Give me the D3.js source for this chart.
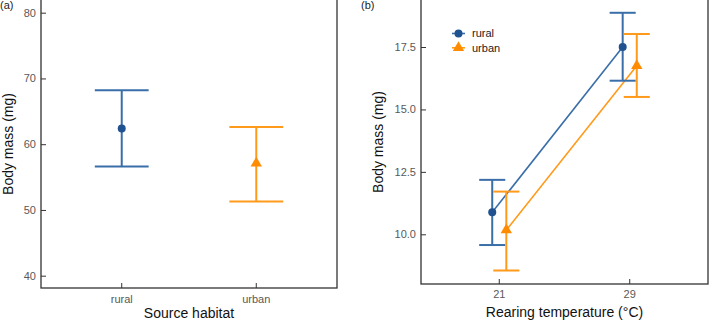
<!DOCTYPE html>
<html>
<head>
<meta charset="utf-8">
<script src="https://cdn.jsdelivr.net/npm/d3@7"></script>
<style>
  body { margin: 0; background: #fff; }
  svg { display: block; font-family: "Liberation Sans", Arial, sans-serif; }
</style>
</head>
<body>
<svg id="chart" width="709" height="320"></svg>
<script>
// Panel (a): body mass by source habitat
const habitats = ["rural", "urban"];
const habitatMean = [62.4, 57.1];
const habitatLow = [56.6, 51.3];
const habitatHigh = [68.2, 62.6];
const ticksA = [40, 50, 60, 70, 80];

// Panel (b): body mass by rearing temperature
const temps = ["21", "29"];
const ruralMean = [10.88, 17.5];
const ruralLow = [9.57, 16.15];
const ruralHigh = [12.18, 18.87];
const urbanMean = [10.17, 16.75];
const urbanLow = [8.55, 15.5];
const urbanHigh = [11.71, 18.02];
const ticksB = [10.0, 12.5, 15.0, 17.5];

const colors = { rural: "#3a6ea8", ruralDot: "#1f528f", urban: "#ff9a1a", urbanDot: "#ff8c00" };
const svg = d3.select("#chart");

function frame(g, x0, x1, yTop, yBot) {
  // box round the plot area
  g.append("rect").attr("x", x0).attr("y", yTop).attr("width", x1 - x0).attr("height", yBot - yTop)
    .attr("fill", "none").attr("stroke", "#333").attr("stroke-width", 1.3);
}

function marker(g, shape, cx, cy, fill) {
  if (shape === "circle") {
    g.append("circle").attr("cx", cx).attr("cy", cy).attr("r", 4).attr("fill", fill);
  } else {
    g.append("path").attr("d", d3.symbol(d3.symbolTriangle, 56)())
      .attr("transform", `translate(${cx},${cy})`).attr("fill", fill);
  }
}

function errBar(g, x, yLo, yHi, half, color, w) {
  g.append("line").attr("x1", x).attr("x2", x).attr("y1", yLo).attr("y2", yHi).attr("stroke", color).attr("stroke-width", w);
  g.append("line").attr("x1", x - half).attr("x2", x + half).attr("y1", yLo).attr("y2", yLo).attr("stroke", color).attr("stroke-width", w);
  g.append("line").attr("x1", x - half).attr("x2", x + half).attr("y1", yHi).attr("y2", yHi).attr("stroke", color).attr("stroke-width", w);
}

function axes(g, x, y, xTicks, xLabels, yTicks, yFmt, left, right, bottom, labY) {
  // y axis, ticks pointing inwards
  const ya = g.append("g").attr("transform", `translate(${left},0)`)
    .call(d3.axisRight(y).tickValues(yTicks).tickFormat(() => "").tickSize(5));
  ya.select(".domain").remove();
  ya.selectAll("line").attr("stroke", "#333");
  yTicks.forEach(v => {
    g.append("text").attr("x", left - 5).attr("y", y(v)).attr("dy", "0.35em")
      .attr("text-anchor", "end").attr("font-size", 11).attr("fill", "#595959").text(yFmt(v));
  });
  // x axis
  xTicks.forEach((v, i) => {
    g.append("line").attr("x1", x(v)).attr("x2", x(v)).attr("y1", bottom).attr("y2", bottom - 5).attr("stroke", "#333");
    g.append("text").attr("x", x(v)).attr("y", labY).attr("dy", "0.35em")
      .attr("text-anchor", "middle").attr("font-size", 11).attr("fill", "#595959").text(xLabels[i]);
  });
}

// ---------- Panel (a) ----------
{
  const left = 41, right = 337, top = 0, bottom = 288;
  const g = svg.append("g");
  const x = d3.scaleLinear().domain([0.4, 2.6]).range([left, right]);
  const y = d3.scaleLinear().domain([80, 40]).range([12.7, 275.7]);
  const half = (x(1.2) - x(1));

  habitats.forEach((h, i) => {
    errBar(g, x(i + 1), y(habitatLow[i]), y(habitatHigh[i]), half, colors[h], 2);
    marker(g, i === 0 ? "circle" : "triangle", x(i + 1), y(habitatMean[i]), i === 0 ? colors.ruralDot : colors.urbanDot);
  });

  frame(g, left, right, -2, bottom);
  axes(g, x, y, [1, 2], habitats, ticksA, d3.format("d"), left, right, bottom, 299.5);

  g.append("text").attr("x", (left + right) / 2).attr("y", 318).attr("text-anchor", "middle")
    .attr("font-size", 14).attr("fill", "#111").text("Source habitat");
  g.append("text").attr("transform", `translate(8,${(top + bottom) / 2}) rotate(-90)`).attr("dy", "0.35em")
    .attr("text-anchor", "middle").attr("font-size", 14).attr("fill", "#111").text("Body mass (mg)");
  g.append("text").attr("x", 0).attr("y", 9).attr("font-size", 11).attr("fill", "#222").text("(a)");
}

// ---------- Panel (b) ----------
{
  const left = 421, right = 708, top = 0, bottom = 284;
  const g = svg.append("g");
  const x = d3.scaleLinear().domain([0.4, 2.6]).range([left, right]);
  const y = d3.scaleLinear().domain([17.5, 10]).range([47, 234.3]);
  const dodge = 0.054;
  const half = x(1.1) - x(1);

  const series = [
    { key: "rural", mean: ruralMean, lo: ruralLow, hi: ruralHigh, off: -dodge, shape: "circle", dot: colors.ruralDot },
    { key: "urban", mean: urbanMean, lo: urbanLow, hi: urbanHigh, off: dodge, shape: "triangle", dot: colors.urbanDot }
  ];

  series.forEach(s => {
    const line = d3.line().x((d, i) => x(i + 1 + s.off)).y(d => y(d));
    g.append("path").datum(s.mean).attr("d", line).attr("fill", "none").attr("stroke", colors[s.key]).attr("stroke-width", 1.6);
  });
  series.forEach(s => {
    temps.forEach((t, i) => {
      errBar(g, x(i + 1 + s.off), y(s.lo[i]), y(s.hi[i]), half, colors[s.key], 2);
    });
  });
  series.forEach(s => {
    temps.forEach((t, i) => marker(g, s.shape, x(i + 1 + s.off), y(s.mean[i]), s.dot));
  });

  frame(g, left, right, -2, bottom);
  axes(g, x, y, [1, 2], temps, ticksB, d3.format(".1f"), left, right, bottom, 294.5);

  g.append("text").attr("x", (left + right) / 2).attr("y", 312).attr("dy", "0.35em")
    .attr("text-anchor", "middle").attr("font-size", 14).attr("fill", "#111").text("Rearing temperature (°C)");
  g.append("text").attr("transform", `translate(378,${(top + bottom) / 2}) rotate(-90)`).attr("dy", "0.35em")
    .attr("text-anchor", "middle").attr("font-size", 14).attr("fill", "#111").text("Body mass (mg)");
  g.append("text").attr("x", 361).attr("y", 9).attr("font-size", 11).attr("fill", "#222").text("(b)");

  // legend
  series.forEach((s, i) => {
    const ly = 33.5 + i * 14.3;
    g.append("line").attr("x1", 452).attr("x2", 465).attr("y1", ly).attr("y2", ly).attr("stroke", colors[s.key]).attr("stroke-width", 1.6);
    marker(g, s.shape, 458.5, ly, s.dot);
    g.append("text").attr("x", 472).attr("y", ly).attr("dy", "0.35em").attr("font-size", 11).attr("fill", "#222").text(s.key);
  });
}
</script>
</body>
</html>
